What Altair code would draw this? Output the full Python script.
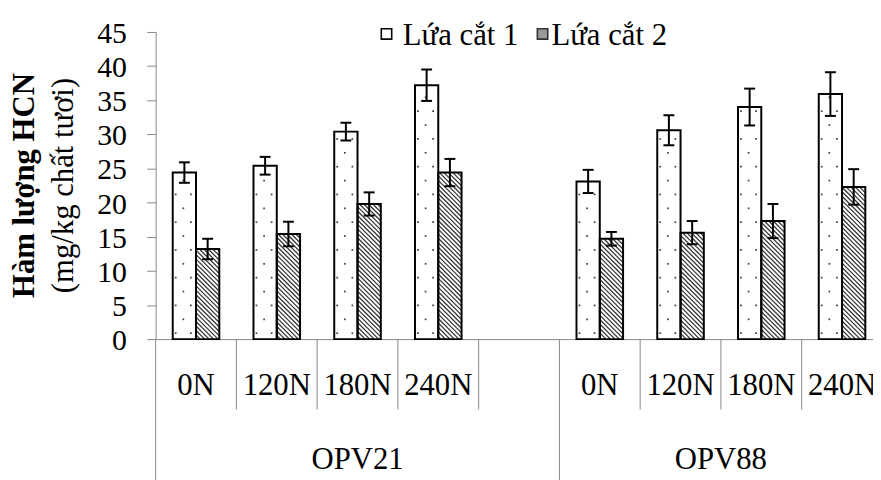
import altair as alt
import pandas as pd

# ---------------- data ----------------
GROUPS = ["OPV21", "OPV88"]
DOSES = ["0N", "120N", "180N", "240N"]
SERIES = ["Lứa cắt 1", "Lứa cắt 2"]
CUT1 = [24.4, 25.4, 30.4, 37.2, 23.1, 30.6, 34.0, 35.9]
CUT1_ERR = [1.5, 1.3, 1.3, 2.3, 1.7, 2.2, 2.7, 3.2]
CUT2 = [13.2, 15.4, 19.8, 24.4, 14.7, 15.6, 17.3, 22.3]
CUT2_ERR = [1.5, 1.8, 1.7, 2.0, 1.0, 1.7, 2.5, 2.6]
Y_TICKS = list(range(0, 50, 5))
Y_TITLE_1 = "Hàm lượng HCN"
Y_TITLE_2 = "(mg/kg chất tươi)"

# ---------------- layout ----------------
W, H = 724, 310
PAD = {"left": 149, "top": 22, "right": 0, "bottom": 140}
CAT_PX = 81.5
XMIN = -0.5
XMAX = XMIN + W / CAT_PX
SX = CAT_PX
SY = H / 45.0
BAR_W = 23.5 / SX
CAP = 5.5 / SX
GRAY = "#888888"
SERIF = "Liberation Serif"

# group spans: first group carries one empty slot after it
GROUP_SLOTS = [len(DOSES) + 1, len(DOSES)]

bars, errs, labels, seps, glabels = [], [], [], [], []
start = XMIN
k = 0
for g, grp in enumerate(GROUPS):
    first = start + 0.5
    for d, dose in enumerate(DOSES):
        i = first + d
        labels.append({"x": i, "t": dose})
        for s, (vals, evs) in enumerate([(CUT1, CUT1_ERR), (CUT2, CUT2_ERR)]):
            v, e = vals[k], evs[k]
            x0 = i - BAR_W if s == 0 else i
            bars.append({"x0": x0, "x1": x0 + BAR_W, "y": v, "y0": 0.0, "s": SERIES[s]})
            xc = x0 + BAR_W / 2
            errs.append({"xc": xc, "lo": v - e, "hi": v + e,
                         "cl": xc - CAP, "cr": xc + CAP})
        k += 1
    end = start + GROUP_SLOTS[g]
    for j in range(GROUP_SLOTS[g] - 1):
        seps.append({"x": start + j + 1})
    glabels.append({"x": (start + end) / 2, "t": grp})
    start = end
longs = [{"x": XMIN}] + [{"x": XMIN + sum(GROUP_SLOTS[: g + 1])} for g in range(len(GROUPS))]

bars_df = pd.DataFrame(bars)
errs_df = pd.DataFrame(errs)
ytick_df = pd.DataFrame({"v": Y_TICKS, "t": [str(v) for v in Y_TICKS]})

# pattern decorations derived from the bars
PERIOD = 4.5
hatch, dots = [], []
for b in bars:
    xl_px = (b["x0"] - XMIN) * SX
    w = BAR_W * SX
    h = b["y"] * SY
    if b["s"] == SERIES[1]:
        c = (-xl_px) % PERIOD
        while c < w + h:
            xa, xb = max(0.0, c - h), min(w, c)
            if xb - xa > 0.3:
                hatch.append({"xa": b["x0"] + xa / SX, "ya": (c - xa) / SY,
                              "xb": b["x0"] + xb / SX, "yb": (c - xb) / SY})
            c += PERIOD
    else:
        r = 0
        yy = 6.0
        while yy < h - 3:
            cols = [3.0, 18.3] if r % 2 == 0 else [10.7]
            for cx in cols:
                dots.append({"x": b["x0"] + cx / SX, "y": yy / SY})
            yy += 14.0
            r += 1
hatch_df = pd.DataFrame(hatch)
dots_df = pd.DataFrame(dots)

xs = alt.Scale(domain=[XMIN, XMAX], nice=False, zero=False)
ys = alt.Scale(domain=[0, 45], nice=False, zero=True)
XAXIS = alt.Axis(title=None, labels=False, ticks=False, grid=False,
                 domainColor=GRAY, domainWidth=1)
YAXIS = alt.Axis(title=None, values=Y_TICKS, grid=False, labels=False,
                 tickColor=GRAY, tickSize=9, tickWidth=1,
                 domainColor=GRAY, domainWidth=1)


def X(f):
    return alt.X(f, type="quantitative", scale=xs, axis=XAXIS)


def Y(f):
    return alt.Y(f, type="quantitative", scale=ys, axis=YAXIS)


base_bars = alt.Chart(bars_df).mark_bar(fill="white", stroke="black", strokeWidth=0).encode(
    x=X("x0"), x2=alt.X2("x1"), y=Y("y"), y2=alt.Y2("y0"))

hatch_layer = alt.Chart(hatch_df).mark_rule(color="#333333", strokeWidth=1.25).encode(
    x=X("xa"), x2=alt.X2("xb"), y=Y("ya"), y2=alt.Y2("yb"))

dots_layer = alt.Chart(dots_df).mark_square(size=3, color="#444444", filled=True, opacity=1).encode(
    x=X("x"), y=Y("y"))

outline = alt.Chart(bars_df).mark_bar(fill="transparent", stroke="black", strokeWidth=2).encode(
    x=X("x0"), x2=alt.X2("x1"), y=Y("y"), y2=alt.Y2("y0"))

err_v = alt.Chart(errs_df).mark_rule(color="black", strokeWidth=2).encode(
    x=X("xc"), y=Y("lo"), y2=alt.Y2("hi"))
cap_hi = alt.Chart(errs_df).mark_rule(color="black", strokeWidth=2).encode(
    x=X("cl"), x2=alt.X2("cr"), y=Y("hi"))
cap_lo = alt.Chart(errs_df).mark_rule(color="black", strokeWidth=2).encode(
    x=X("cl"), x2=alt.X2("cr"), y=Y("lo"))

# y tick labels as text placed through the y scale (serif, larger than axis default)
ytick_text = alt.Chart(ytick_df).mark_text(
    font=SERIF, fontSize=30, color="black", align="right", baseline="middle", dy=2).encode(
    x=alt.value(-29), y=Y("v"), text="t:N")

sep_short = alt.Chart(pd.DataFrame(seps)).mark_rule(color=GRAY, strokeWidth=1).encode(
    x=X("x"), y=alt.value(H), y2=alt.value(H + 71))
sep_long = alt.Chart(pd.DataFrame(longs)).mark_rule(color=GRAY, strokeWidth=1).encode(
    x=X("x"), y=alt.value(H), y2=alt.value(H + 145))

cat_text = alt.Chart(pd.DataFrame(labels)).mark_text(
    font=SERIF, fontSize=31, color="black", align="center", baseline="alphabetic").encode(
    x=X("x"), y=alt.value(366.5), text="t:N")
grp_text = alt.Chart(pd.DataFrame(glabels)).mark_text(
    font=SERIF, fontSize=31, color="black", align="center", baseline="alphabetic").encode(
    x=X("x"), y=alt.value(441), text="t:N")

ytitle1 = alt.Chart(pd.DataFrame({"t": [Y_TITLE_1]})).mark_text(
    font=SERIF, fontSize=31, fontWeight="bold", color="black", angle=270,
    align="center", baseline="alphabetic").encode(
    x=alt.value(-123), y=alt.value(H / 2), text="t:N")
ytitle2 = alt.Chart(pd.DataFrame({"t": [Y_TITLE_2]})).mark_text(
    font=SERIF, fontSize=31, color="black", angle=270,
    align="center", baseline="alphabetic").encode(
    x=alt.value(-83.5), y=alt.value(H / 2), text="t:N")

leg_df1 = pd.DataFrame({"t": [SERIES[0]]})
leg_df2 = pd.DataFrame({"t": [SERIES[1]]})
leg_sq1 = alt.Chart(leg_df1).mark_square(size=110, fill="white", stroke="black",
                                          strokeWidth=1.6, opacity=1).encode(
    x=alt.value(233), y=alt.value(2))
leg_sq2 = alt.Chart(leg_df2).mark_square(size=110, fill="#9a9a9a", stroke="#333333",
                                          strokeWidth=1.6, opacity=1).encode(
    x=alt.value(390.5), y=alt.value(2))
leg_t1 = alt.Chart(leg_df1).mark_text(font=SERIF, fontSize=31, color="black",
                                      align="left", baseline="alphabetic").encode(
    x=alt.value(249.5), y=alt.value(13.3), text="t:N")
leg_t2 = alt.Chart(leg_df2).mark_text(font=SERIF, fontSize=31, color="black",
                                      align="left", baseline="alphabetic").encode(
    x=alt.value(399.5), y=alt.value(13.3), text="t:N")

chart = alt.layer(
    base_bars, hatch_layer, dots_layer, outline, err_v, cap_hi, cap_lo,
    ytick_text, sep_short, sep_long, cat_text, grp_text, ytitle1, ytitle2,
    leg_sq1, leg_sq2, leg_t1, leg_t2,
).properties(
    width=W, height=H, padding=PAD,
    autosize=alt.AutoSizeParams(type="none"),
    background="white",
).configure_view(stroke=None)

chart.save("out.html", embed_options={"renderer": "svg", "actions": False})
